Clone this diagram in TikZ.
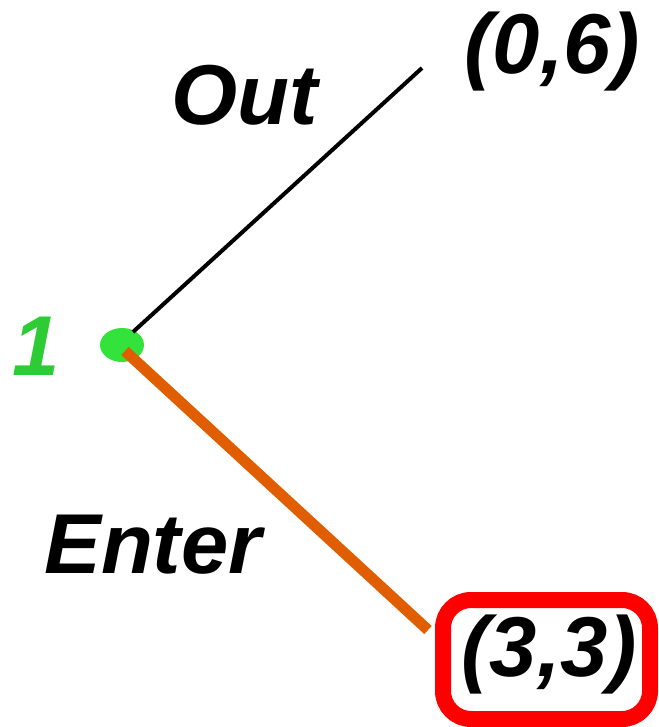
\documentclass[tikz,border=0pt]{standalone}
\usepackage{fontspec}
\setmainfont{Liberation Sans}
\usetikzlibrary{shapes.geometric}
\definecolor{dotgreen}{HTML}{33E23A}
\definecolor{onegreen}{HTML}{2ECC34}
\definecolor{edgeorange}{HTML}{E05E00}
\definecolor{boxred}{HTML}{FF0000}
\begin{document}
\begin{tikzpicture}[x=1pt,y=-1pt,
  lbl/.style={font=\fontsize{85}{100}\selectfont\bfseries\itshape, inner sep=0pt, anchor=center}]
\useasboundingbox (0,0) rectangle (658,727);
\node[ellipse, fill=dotgreen, minimum width=44, minimum height=34, inner sep=0pt] (v) at (122,345) {};
\coordinate (top) at (422,68);
\coordinate (bot) at (428,630);
\coordinate (vt) at (133,332);
\coordinate (vb) at (125,351);
\draw[line width=4] (vt) -- (top);
\draw[line width=11, edgeorange] (vb) -- (bot);
\draw[boxred, line width=16, rounded corners=28] (443,600) rectangle (650,719);
\node[lbl] (a) at (552,52) {(0,6)};
\node[lbl] (o) at (245,95) {Out};
\node[lbl, text=onegreen] (one) at (36,346) {1};
\node[lbl] (e) at (153,545) {Enter};
\node[lbl] (b) at (549,655) {(3,3)};
\end{tikzpicture}
\end{document}
